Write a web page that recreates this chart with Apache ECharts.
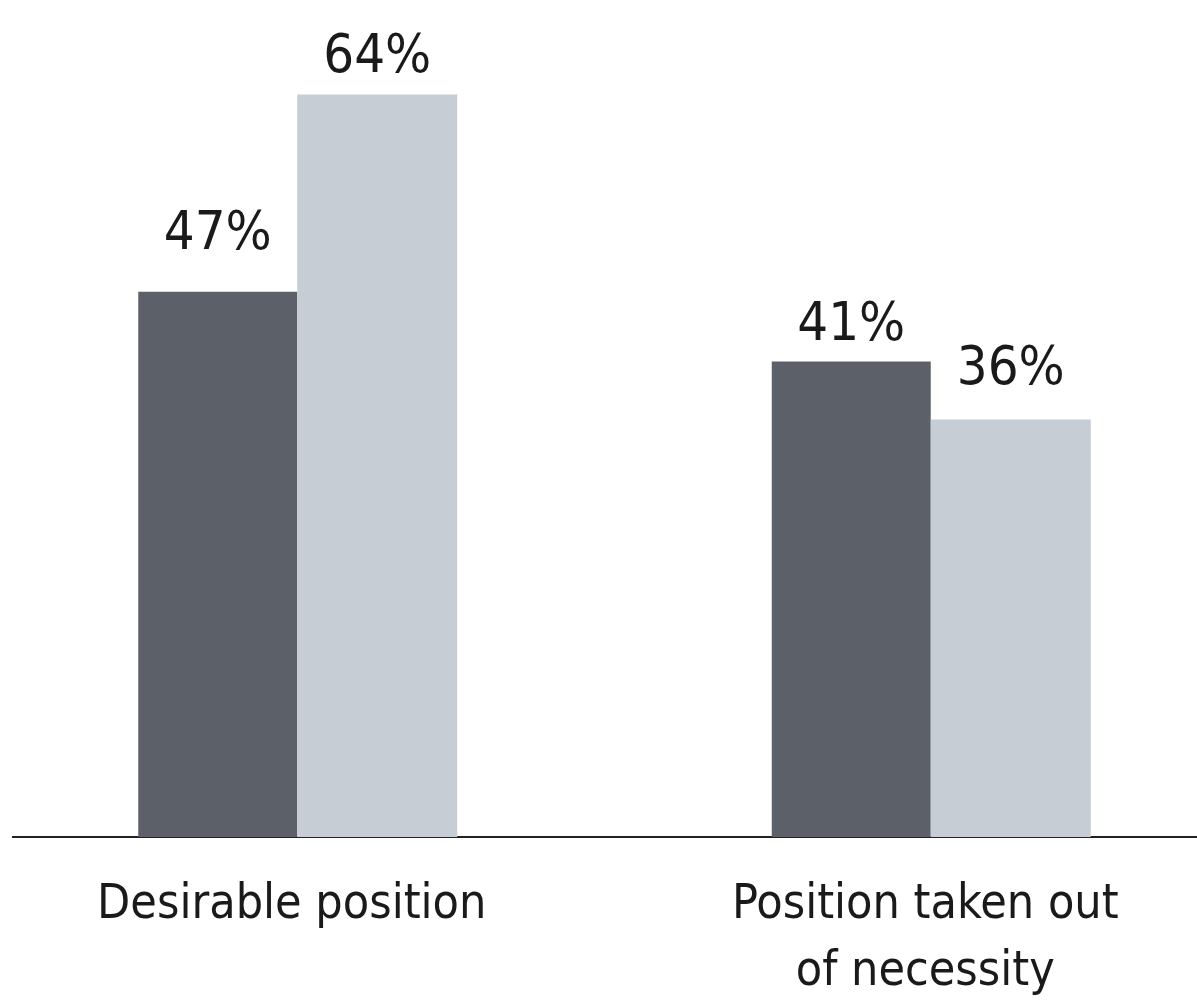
<!DOCTYPE html>
<html>
<head>
<meta charset="utf-8">
<script src="https://cdn.jsdelivr.net/npm/echarts@6/dist/echarts.min.js"></script>
<style>
  html, body { margin: 0; padding: 0; background: #fff; }
  #chart { width: 1197px; height: 1001px; }
</style>
</head>
<body>
<div id="chart"></div>
<script>
// categories on the x axis
var categories = ['Desirable position', 'Position taken out\nof necessity']
// two series (dark / light), values in percent
var darkValues = [47, 41]
var lightValues = [64, 36]

var FONT = '"Liberation Sans Narrow", "DejaVu Sans Condensed", "Roboto", sans-serif'
var axisY = 837 // baseline position in px

var chart = echarts.init(document.getElementById('chart'))

function labelled(values, distances) {
  return values.map(function (v, i) {
    return { value: v, label: { distance: distances[i] } }
  })
}

chart.setOption({
  animation: false,
  grid: {
    top: axisY - 70 * 11.6,
    bottom: 1001 - axisY,
    left: -19,
    right: -51,
    outerBoundsMode: 'none'
  },
  xAxis: {
    type: 'category',
    data: categories,
    axisLine: { show: false },
    axisTick: { show: false },
    axisLabel: {
      interval: 0,
      margin: 35,
      fontFamily: FONT,
      fontSize: 48,
      lineHeight: 67,
      color: '#1a1a1a',
      padding: [0, 12, 0, 0]
    }
  },
  yAxis: {
    type: 'value',
    min: 0,
    max: 70,
    show: false,
    splitLine: { show: false }
  },
  graphic: [{
    type: 'line',
    z: 0,
    shape: { x1: 12, y1: axisY, x2: 1197, y2: axisY },
    style: { stroke: '#222', lineWidth: 2 }
  }],
  series: [
    {
      type: 'bar',
      data: labelled(darkValues, [30, 8]),
      barWidth: 159,
      barGap: '0%',
      itemStyle: { color: '#5c6068' },
      label: {
        show: true,
        position: 'top',
        formatter: '{c}%',
        fontFamily: FONT,
        fontSize: 54,
        color: '#1a1a1a'
      }
    },
    {
      type: 'bar',
      data: labelled(lightValues, [10, 22]),
      barWidth: 160,
      barGap: '0%',
      itemStyle: { color: '#c6cdd5' },
      label: {
        show: true,
        position: 'top',
        formatter: '{c}%',
        fontFamily: FONT,
        fontSize: 54,
        color: '#1a1a1a'
      }
    }
  ]
})
</script>
</body>
</html>
